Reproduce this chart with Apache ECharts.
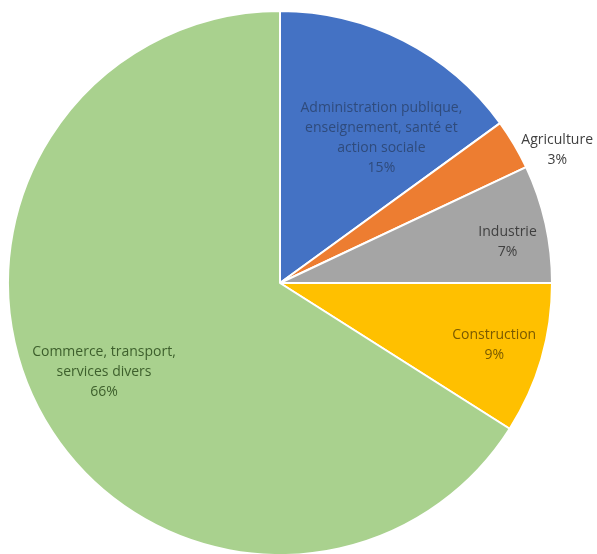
<!DOCTYPE html>
<html>
<head>
<meta charset="utf-8">
<script src="https://cdn.jsdelivr.net/npm/echarts@6/dist/echarts.min.js"></script>
<style>
  html, body { margin: 0; padding: 0; background: #fff; }
  #chart { width: 597px; height: 554px; }
</style>
</head>
<body>
<div id="chart"></div>
<script>
// secteurs (ordre horaire depuis midi)
var categories = [
  "Administration publique,\nenseignement, santé et\naction sociale",
  "Agriculture",
  "Industrie",
  "Construction",
  "Commerce, transport,\nservices divers"
];
var shares = [15, 3, 7, 9, 66];

var colors = ["#4472c4", "#ed7d31", "#a5a5a5", "#ffc000", "#a9d18e"];
var textColors = ["#2f4b7c", "#404040", "#404040", "#7a5a00", "#3d5f2c"];

// label placement: [fraction of radius, angle shift in degrees]
var labelPlace = [[0.65, 8], [1.13, 5], [0.85, 2.4], [0.82, 0], [0.725, 2]];

var cx = 280, cy = 283, R = 272;

var myChart = echarts.init(document.getElementById("chart"));

var option = {
  animation: false,
  series: [
    {
      type: "pie",
      center: [cx, cy],
      radius: [0, R],
      startAngle: 90,
      clockwise: true,
      itemStyle: {
        borderColor: "#fff",
        borderWidth: 2
      },
      label: {
        position: "inside",
        formatter: "{b}\n{c}%",
        fontFamily: "Open Sans",
        fontSize: 14,
        lineHeight: 20,
        align: "center"
      },
      labelLine: { show: false },
      labelLayout: function (p) {
        var r = p.labelRect;
        var lx = r.x + r.width / 2 - cx;
        var ly = r.y + r.height / 2 - cy;
        var ang = Math.atan2(lx, -ly);
        var pl = labelPlace[p.dataIndex];
        ang += pl[1] * Math.PI / 180;
        return {
          x: cx + Math.sin(ang) * R * pl[0],
          y: cy - Math.cos(ang) * R * pl[0],
          align: "center",
          verticalAlign: "middle"
        };
      },
      emphasis: { disabled: true },
      data: categories.map(function (name, i) {
        return {
          name: name,
          value: shares[i],
          itemStyle: { color: colors[i] },
          label: { color: textColors[i] }
        };
      })
    }
  ]
};

myChart.setOption(option);
</script>
</body>
</html>
